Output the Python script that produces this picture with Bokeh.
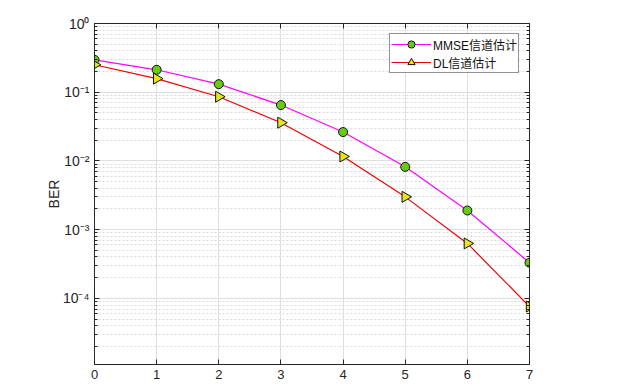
import numpy as np
from bokeh.plotting import figure
from bokeh.models import ColumnDataSource, LogAxis, LinearAxis, CustomJSTickFormatter, Legend, LegendItem, Range1d, FixedTicker
from bokeh.embed import file_html
from bokeh.resources import INLINE

snr = [0, 1, 2, 3, 4, 5, 6, 7]
ber_mmse = [0.296, 0.212, 0.131, 0.065, 0.0263, 0.0082, 0.0019, 0.00033]
ber_dl = [0.251, 0.158, 0.086, 0.036, 0.0116, 0.0030, 0.00063, 0.000076]
x_ticks = [0, 1, 2, 3, 4, 5, 6, 7]
series_names = ["MMSE信道估计", "DL信道估计"]

FONT = "Liberation Sans, Arial, Noto Sans CJK SC"

p = figure(width=618, height=388, y_axis_type="log", output_backend="svg",
           toolbar_location=None, x_range=Range1d(0, 7), y_range=Range1d(1.09e-5, 1.0),
           min_border_left=94, min_border_right=89, min_border_top=23, min_border_bottom=24)
p.outline_line_color = "#262626"
p.outline_line_width = 1

sup_js = """
const m = {'-':'\u207b','0':'\u2070','1':'\u00b9','2':'\u00b2','3':'\u00b3','4':'\u2074','5':'\u2075','6':'\u2076','7':'\u2077','8':'\u2078','9':'\u2079'};
const e = Math.round(Math.log10(tick));
return '10' + String(e).split('').map(c => m[c]).join('');
"""

ya = p.yaxis[0]
ya.formatter = CustomJSTickFormatter(code=sup_js)
ya.ticker.num_minor_ticks = 10
xa = p.xaxis[0]
xa.ticker = FixedTicker(ticks=x_ticks)

for ax in (xa, ya):
    ax.major_tick_in = 5
    ax.major_tick_out = 0
    ax.minor_tick_in = 3
    ax.minor_tick_out = 0
    ax.axis_line_color = "#262626"
    ax.major_tick_line_color = "#262626"
    ax.minor_tick_line_color = "#262626"
    ax.major_label_text_font = FONT
    ax.major_label_text_font_size = "14px"
    ax.major_label_text_color = "#262626"
    ax.major_label_standoff = 5
xa.major_label_text_font_size = "13px"
xa.minor_tick_line_color = None
ya.axis_label = "BER"
ya.axis_label_text_font = FONT
ya.axis_label_text_font_style = "normal"
ya.axis_label_text_font_size = "14px"
ya.axis_label_text_color = "#262626"
ya.axis_label_standoff = -2

blank = CustomJSTickFormatter(code="return '';")
ra = LogAxis(formatter=blank, major_tick_in=5, major_tick_out=0,
             minor_tick_in=3, minor_tick_out=0, axis_line_color="#262626",
             major_tick_line_color="#262626", minor_tick_line_color="#262626")
ra.ticker.num_minor_ticks = 10
p.add_layout(ra, "right")
ta = LinearAxis(formatter=CustomJSTickFormatter(code="return '';"), major_tick_in=5, major_tick_out=0,
                minor_tick_line_color=None, axis_line_color="#262626",
                major_tick_line_color="#262626", ticker=FixedTicker(ticks=x_ticks))
p.add_layout(ta, "above")

p.xgrid.grid_line_color = "#dedede"
p.ygrid.grid_line_color = "#dedede"
p.ygrid.minor_grid_line_color = "#d9d9d9"
p.ygrid.minor_grid_line_dash = "2 2"

src1 = ColumnDataSource(dict(x=snr, y=ber_mmse))
src2 = ColumnDataSource(dict(x=snr, y=ber_dl, ang=[-np.pi / 2] * len(snr)))
l1 = p.line("x", "y", source=src1, line_color="#ff00ff", line_width=1.2)
m1 = p.scatter("x", "y", source=src1, marker="circle", size=9, fill_color="#66cc11",
               line_color="#111111", line_width=1)
l2 = p.line("x", "y", source=src2, line_color="#ee0000", line_width=1.2)
m2 = p.scatter("x", "y", source=src2, marker="triangle", angle="ang", size=11,
               fill_color="#e5e51a", line_color="#111111", line_width=1)

legend = Legend(items=[LegendItem(label=series_names[0], renderers=[l1, m1], index=0),
                       LegendItem(label=series_names[1], renderers=[l2, m2], index=0)],
                location="top_right", border_line_color="#262626", border_line_width=1,
                label_text_font=FONT, label_text_font_size="12px", label_text_color="#111111",
                glyph_width=40, glyph_height=18, label_height=15, spacing=0, padding=1,
                margin=10, label_standoff=2, background_fill_alpha=1)
p.add_layout(legend, "center")

open("out.html", "w").write(file_html(p, INLINE))
